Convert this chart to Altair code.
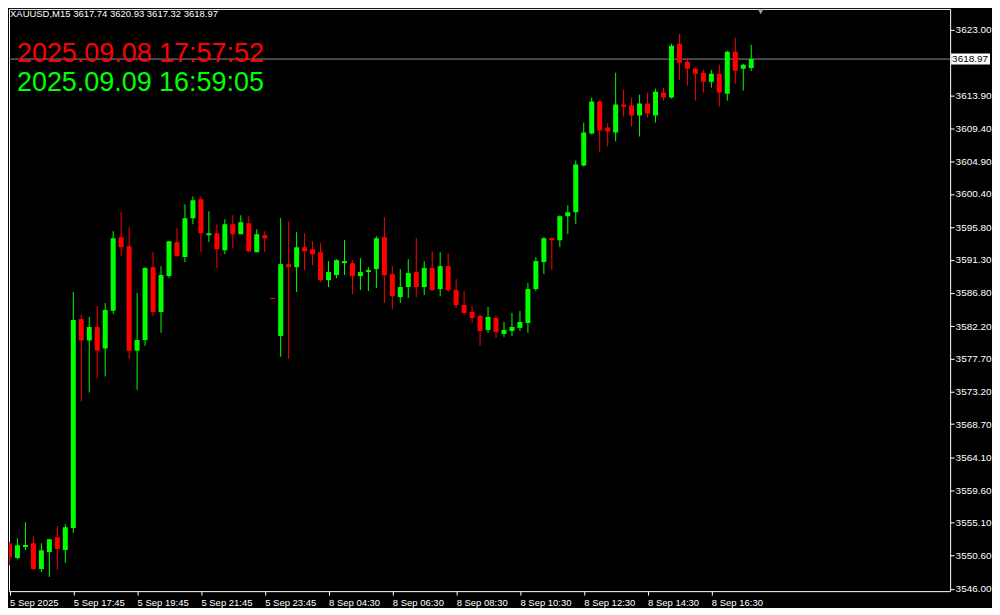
import altair as alt
import pandas as pd

# OHLC of the 94 M15 bars
opens = [3552.27, 3550.25, 3551.76, 3552.27, 3548.74, 3551.08, 3553.10, 3551.35, 3554.37, 3583.17,
         3580.19, 3582.07, 3579.09, 3584.31, 3594.43, 3593.20, 3578.78, 3580.29, 3590.31, 3584.13,
         3589.08, 3593.75, 3591.69, 3597.04, 3599.65, 3594.71, 3594.98, 3592.65, 3596.22, 3594.84,
         3596.36, 3592.37, 3594.71, 3586.06, 3580.84, 3590.72, 3590.31, 3593.06, 3592.78, 3592.37,
         3588.53, 3589.21, 3590.86, 3590.86, 3589.08, 3589.63, 3590.04, 3594.43, 3589.35, 3586.19,
         3587.57, 3589.63, 3587.57, 3590.18, 3587.29, 3590.45, 3587.15, 3585.09, 3584.13, 3583.58,
         3581.66, 3583.31, 3581.11, 3581.52, 3581.94, 3582.62, 3587.29, 3591.00, 3594.30, 3594.02,
         3597.32, 3597.87, 3604.32, 3608.71, 3613.11, 3609.54, 3608.85, 3612.70, 3612.56, 3611.19,
         3612.84, 3611.19, 3614.35, 3613.66, 3621.07, 3618.60, 3617.64, 3617.09, 3615.86, 3616.95,
         3614.21, 3619.98, 3617.64, 3617.74]
highs = [3552.41, 3552.96, 3555.16, 3553.23, 3552.27, 3552.82, 3554.61, 3554.88, 3586.88, 3583.72,
         3583.45, 3584.96, 3585.37, 3595.26, 3597.87, 3595.81, 3586.74, 3590.31, 3592.37, 3590.45,
         3593.88, 3595.67, 3598.96, 3600.06, 3600.06, 3598.00, 3596.22, 3596.90, 3597.45, 3597.45,
         3597.32, 3595.53, 3595.26, 3586.10, 3597.04, 3596.63, 3595.12, 3594.98, 3593.88, 3593.61,
         3591.14, 3591.41, 3594.02, 3591.27, 3591.55, 3590.31, 3594.57, 3597.18, 3590.45, 3590.04,
         3591.41, 3594.30, 3591.14, 3592.51, 3592.37, 3592.24, 3588.67, 3587.02, 3584.96, 3583.86,
         3584.82, 3583.58, 3582.76, 3584.00, 3584.27, 3588.12, 3591.69, 3594.43, 3594.43, 3597.45,
         3598.83, 3605.01, 3610.23, 3613.66, 3613.25, 3610.09, 3617.09, 3614.76, 3613.66, 3614.07,
         3614.35, 3614.89, 3615.03, 3621.07, 3622.45, 3619.15, 3617.78, 3617.50, 3617.50, 3618.19,
         3620.11, 3621.90, 3618.33, 3620.93]
lows = [3549.25, 3550.08, 3551.35, 3548.61, 3548.33, 3547.64, 3548.61, 3549.57, 3553.69, 3571.81,
        3573.05, 3574.97, 3575.25, 3583.86, 3591.87, 3577.68, 3573.42, 3579.46, 3583.58, 3581.25,
        3588.80, 3591.82, 3591.00, 3596.22, 3592.37, 3593.75, 3590.18, 3592.10, 3592.92, 3594.84,
        3592.37, 3592.37, 3592.37, 3585.92, 3577.95, 3577.68, 3586.88, 3589.90, 3590.59, 3588.25,
        3587.57, 3588.80, 3589.21, 3586.61, 3587.15, 3587.02, 3587.43, 3585.37, 3584.54, 3585.37,
        3586.06, 3586.19, 3586.47, 3587.02, 3586.33, 3586.88, 3584.68, 3583.72, 3582.62, 3579.46,
        3581.25, 3580.56, 3580.70, 3580.84, 3581.52, 3581.25, 3587.02, 3589.35, 3589.90, 3593.06,
        3594.84, 3596.22, 3604.18, 3608.58, 3606.11, 3606.93, 3607.62, 3611.05, 3609.68, 3608.30,
        3610.91, 3610.23, 3613.25, 3613.52, 3616.13, 3615.31, 3613.25, 3614.35, 3615.03, 3612.42,
        3613.25, 3615.58, 3614.62, 3617.32]
closes = [3550.39, 3552.00, 3552.04, 3548.74, 3551.31, 3552.82, 3551.49, 3554.47, 3583.03, 3580.19,
          3582.07, 3578.82, 3584.41, 3594.30, 3593.06, 3578.78, 3580.29, 3590.18, 3584.13, 3589.21,
          3593.88, 3591.82, 3597.04, 3599.51, 3594.98, 3594.98, 3592.78, 3596.22, 3594.84, 3596.49,
          3592.51, 3594.84, 3594.30, 3585.92, 3590.72, 3590.31, 3593.06, 3592.51, 3592.10, 3588.53,
          3589.63, 3591.27, 3591.14, 3589.08, 3589.63, 3589.90, 3594.30, 3589.21, 3586.33, 3587.57,
          3589.49, 3587.57, 3590.18, 3587.15, 3590.45, 3587.15, 3585.09, 3584.00, 3583.31, 3581.52,
          3583.45, 3581.39, 3581.66, 3582.07, 3582.76, 3587.29, 3591.14, 3594.30, 3594.02, 3597.32,
          3597.87, 3604.46, 3608.85, 3613.11, 3609.13, 3608.99, 3612.70, 3612.42, 3611.19, 3612.84,
          3611.46, 3614.48, 3613.66, 3620.80, 3618.47, 3617.64, 3616.95, 3615.86, 3616.95, 3614.35,
          3619.98, 3617.37, 3618.19, 3618.97]

x_tick_idx = [0, 8, 16, 24, 32, 40, 48, 56, 64, 72, 80, 88]
x_tick_labels = ["5 Sep 2025", "5 Sep 17:45", "5 Sep 19:45", "5 Sep 21:45", "5 Sep 23:45",
                 "8 Sep 04:30", "8 Sep 06:30", "8 Sep 08:30", "8 Sep 10:30", "8 Sep 12:30",
                 "8 Sep 14:30", "8 Sep 16:30"]
y_ticks = [3623.00, 3613.90, 3609.40, 3604.90, 3600.40, 3595.80, 3591.30, 3586.80,
           3582.20, 3577.70, 3573.20, 3568.70, 3564.10, 3559.60, 3555.10, 3550.60, 3546.00]

symbol = "XAUUSD,M15"
time_red = "2025.09.08 17:57:52"
time_green = "2025.09.09 16:59:05"

df = pd.DataFrame({"i": list(range(len(opens))), "open": opens, "high": highs,
                   "low": lows, "close": closes})

W, H = 944, 584
FONT = "Liberation Sans"
xscale = alt.Scale(domain=[-0.0625, 117.9375], nice=False, zero=False, padding=0)
yscale = alt.Scale(domain=[3545.68, 3625.88], nice=False, zero=False, padding=0)

color = alt.condition("datum.close >= datum.open", alt.value("#00FF00"), alt.value("#FF0000"))

idx_js = "[" + ",".join(str(v) for v in x_tick_idx) + "]"
lab_js = "[" + ",".join("'" + s + "'" for s in x_tick_labels) + "]"

x_axis = alt.Axis(values=x_tick_idx, labelExpr=f"{lab_js}[indexof({idx_js}, datum.value)]",
                  tickCount=50, orient="bottom", grid=False, domain=False, ticks=True,
                  tickColor="#FFFFFF", tickSize=4, labelColor="#FFFFFF", labelFont=FONT,
                  labelFontSize=9.5, labelAlign="left", labelBaseline="top", labelPadding=2,
                  labelFlush=False, labelOverlap=False, labelBound=False)
y_axis = alt.Axis(values=y_ticks, labelExpr="format(datum.value, '.2f')", tickCount=50,
                  orient="right", grid=False, domain=False, ticks=True, tickColor="#FFFFFF",
                  tickSize=4, labelColor="#FFFFFF", labelFont=FONT, labelFontSize=10,
                  labelAlign="left", labelBaseline="middle", labelPadding=1, labelFlush=False,
                  labelOverlap=False, labelBound=False)

wicks = alt.Chart(df).mark_rule(strokeWidth=1, clip=True).encode(
    x=alt.X("i:Q", scale=xscale, axis=x_axis, title=None),
    y=alt.Y("low:Q", scale=yscale, axis=y_axis, title=None),
    y2="high:Q",
    color=color,
)
bodies = alt.Chart(df).mark_bar(size=5, clip=True).encode(
    x=alt.X("i:Q", title=None),
    y=alt.Y("open:Q", title=None),
    y2="close:Q",
    color=color,
)

last = pd.DataFrame({"p": [closes[-1]], "t": [f"{closes[-1]:.2f}"]})
price_line = alt.Chart(last).mark_rule(color="#8C8C8C", strokeWidth=1).encode(
    y=alt.Y("p:Q", title=None))
price_box = alt.Chart(last).mark_rect(color="#FFFFFF", yOffset=-5.5, y2Offset=5.5).encode(
    x=alt.value(945), x2=alt.value(984), y=alt.Y("p:Q", title=None), y2="p:Q")
price_txt = alt.Chart(last).mark_text(align="left", baseline="middle", font=FONT,
                                      fontSize=10, color="#000000").encode(
    x=alt.value(946), y=alt.Y("p:Q", title=None), text="t:N")

header = alt.Chart(pd.DataFrame({"t": [f"{symbol}  {opens[-1]:.2f} {highs[-1]:.2f} {lows[-1]:.2f} {closes[-1]:.2f}"]})
                   ).mark_text(align="left", baseline="alphabetic", font=FONT, fontSize=9.5,
                               color="#FFFFFF").encode(x=alt.value(1), y=alt.value(8), text="t:N")
red_t = alt.Chart(pd.DataFrame({"t": [time_red]})).mark_text(
    align="left", baseline="alphabetic", font=FONT, fontSize=27, color="#FF0000").encode(
    x=alt.value(8), y=alt.value(53), text="t:N")
green_t = alt.Chart(pd.DataFrame({"t": [time_green]})).mark_text(
    align="left", baseline="alphabetic", font=FONT, fontSize=27, color="#00FF00").encode(
    x=alt.value(8), y=alt.value(82), text="t:N")
shift_mark = alt.Chart(pd.DataFrame({"t": [1]})).mark_point(
    shape="triangle-down", filled=True, color="#A0A0A0", size=28, opacity=1).encode(
    x=alt.value(754), y=alt.value(3))

chart = alt.layer(price_line, wicks, bodies, price_box, price_txt, header, red_t, green_t,
                  shift_mark).properties(
    width=W, height=H, padding=0, background="#000000"
).configure_view(stroke="#FFFFFF", strokeWidth=1, fill="#000000")

chart.save("out.html", embed_options={"renderer": "svg", "actions": False})
